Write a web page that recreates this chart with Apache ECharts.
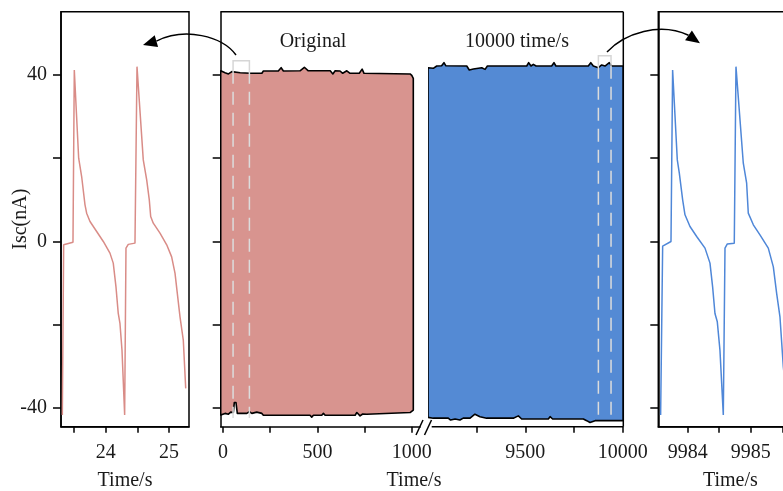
<!DOCTYPE html>
<html><head><meta charset="utf-8">
<script src="https://cdn.jsdelivr.net/npm/echarts@6/dist/echarts.min.js"></script>
<style>html,body{margin:0;padding:0;background:#fff}#c{width:783px;height:491px}</style>
</head><body><div id="c"></div>
<script>
// ---- zoomed waveform, original (left panel) ----
const origTime = [23.314, 23.335, 23.482, 23.503, 23.572, 23.619, 23.672, 23.698, 23.751, 23.856, 23.961, 24.066, 24.118, 24.161, 24.197, 24.224, 24.256, 24.298, 24.319, 24.355, 24.461, 24.493, 24.592, 24.646, 24.687, 24.709, 24.750, 24.856, 24.962, 25.040, 25.093, 25.129, 25.172, 25.224, 25.262];
const origIsc  = [-41.7, -0.8, -0.2, 41.2, 20.0, 15.6, 8.8, 6.8, 4.8, 2.4, 0.0, -2.8, -5.2, -10.9, -17.3, -19.7, -26.1, -41.7, -1.6, -0.7, -0.4, 42.0, 19.6, 14.8, 10.0, 6.0, 4.4, 2.0, -0.8, -3.7, -7.6, -12.4, -18.1, -23.7, -35.3];
// ---- zoomed waveform, after 10000 s (right panel) ----
const fastTime = [9983.572, 9983.604, 9983.736, 9983.762, 9983.836, 9983.868, 9983.921, 9983.958, 9984.037, 9984.143, 9984.275, 9984.354, 9984.396, 9984.433, 9984.470, 9984.512, 9984.565, 9984.592, 9984.629, 9984.739, 9984.766, 9984.882, 9984.935, 9984.961, 9985.041, 9985.146, 9985.278, 9985.358, 9985.410, 9985.463, 9985.516, 9985.560];
const fastIsc  = [-41.7, -1.1, 0.0, 41.2, 19.6, 16.4, 10.0, 6.4, 3.6, 1.2, -1.6, -5.2, -10.9, -17.3, -19.3, -26.1, -41.7, -1.6, -0.6, -0.4, 42.0, 18.8, 14.0, 6.8, 4.0, 1.6, -1.6, -6.1, -12.4, -18.1, -30.1, -36.0];
// ---- envelopes of the full records (middle panel) ----
const origTopTime = [-12, 11, 29, 47, 91, 144, 206, 214, 293, 308, 320, 408, 431, 452, 568, 582, 594, 620, 634, 656, 673, 722, 737, 747, 991, 1000, 1008];
const origTopIsc  = [41.0, 40.55, 40.25, 40.8, 40.55, 40.4, 40.4, 40.95, 40.95, 41.75, 40.95, 41.0, 41.85, 41.0, 41.0, 40.25, 41.0, 40.95, 40.4, 41.0, 40.4, 40.4, 41.4, 40.4, 40.25, 39.9, 39.2];
const origBotTime = [-12, 11, 29, 41, 55, 60, 69, 76, 126, 140, 153, 179, 206, 214, 461, 470, 479, 523, 532, 541, 700, 709, 726, 740, 762, 991, 1008];
const origBotIsc  = [-41.7, -41.3, -41.5, -41.0, -41.1, -38.7, -38.7, -41.3, -41.3, -40.9, -41.3, -41.0, -41.3, -41.75, -41.75, -42.2, -41.75, -41.75, -41.3, -41.75, -41.75, -41.1, -41.9, -41.45, -41.5, -41.1, -40.5];
const fastTopTime = [9000, 9027, 9045, 9070, 9082, 9092, 9199, 9212, 9233, 9276, 9293, 9305, 9507, 9517, 9529, 9541, 9555, 9635, 9647, 9657, 9823, 9836, 9849, 9875, 9892, 9909, 9931, 9944, 10003];
const fastTopIsc  = [41.75, 41.6, 42.15, 42.2, 42.95, 42.2, 42.15, 41.2, 41.45, 41.75, 41.35, 42.15, 42.15, 42.95, 42.15, 42.55, 42.15, 42.15, 42.95, 42.15, 42.15, 42.95, 42.15, 41.75, 42.4, 42.15, 42.95, 42.15, 42.15];
const fastBotTime = [9000, 9027, 9104, 9116, 9139, 9164, 9181, 9216, 9241, 9267, 9301, 9438, 9464, 9481, 9618, 9627, 9640, 9798, 9815, 9832, 9858, 10003];
const fastBotIsc  = [-42.25, -42.45, -42.45, -42.9, -42.65, -42.9, -42.45, -42.45, -41.5, -42.1, -42.45, -42.45, -41.9, -42.65, -42.65, -42.1, -42.65, -42.65, -43.05, -43.5, -43.05, -43.05];
// ---- zoom windows marked in the middle panel ----
const origWindow = [53.5, 140];
const origWindowIsc = [43.4, 41.0, -42.4];
const fastWindow = [9875, 9940];
const fastWindowIsc = [44.6, 42.2, -43.5];
// ---- ticks / labels ----
const yTicks = [-40, -20, 0, 20, 40];
const yLabels = [-40, 0, 40];
const origZoomTicks = [23.5, 24, 24.5, 25];
const origZoomLabels = [24, 25];
const fastZoomTicks = [9984, 9984.5, 9985, 9985.5];
const fastZoomLabels = [9984, 9985];
const midLeftTicks = [0, 250, 500, 750, 1000];
const midLeftLabels = [0, 500, 1000];
const midRightTicks = [9250, 9500, 9750, 10000];
const midRightLabels = [9500, 10000];
const panelTitles = ['Original', '10000 time/s'];
const xName = 'Time/s';
const yName = 'Isc(nA)';

const zip = (a, b) => a.map((v, i) => [v, b[i]]);
const FONT = 'Liberation Serif';
const TXT = {fontFamily: FONT, fontSize: 20, color: '#1a1a1a'};
const PINK_LINE = '#d98c87', PINK_FILL = '#d8948f';
const BLUE_LINE = '#4f87d8', BLUE_FILL = '#548ad4';
const YMIN = -44.5, YMAX = 55.2;
const TOP = 11.7, H = 415;

function xAx(gi, min, max, ticks, labels, name, showLine) {
  return {type: 'value', gridIndex: gi, min, max, position: 'bottom',
    axisLine: {show: showLine, onZero: false, lineStyle: {color: '#000', width: 1.5}},
    axisTick: {show: true, inside: false, length: 6, customValues: ticks, lineStyle: {color: '#000', width: 1.5}},
    axisLabel: Object.assign({show: true, customValues: labels, margin: 16, formatter: v => String(v)}, TXT),
    splitLine: {show: false},
    name: name, nameLocation: 'middle', nameGap: 44, nameMoveOverlap: false, nameTextStyle: Object.assign({}, TXT)};
}
function yAx(gi, showLabels, name, show) {
  return {type: 'value', gridIndex: gi, min: YMIN, max: YMAX, show: show !== false,
    axisLine: {show: true, onZero: false, lineStyle: {color: '#000', width: 1.5}},
    axisTick: {show: true, inside: false, length: 8, customValues: yTicks, lineStyle: {color: '#000', width: 1.5}},
    axisLabel: Object.assign({show: showLabels, customValues: yLabels, margin: 14, formatter: v => String(v)}, TXT),
    splitLine: {show: false},
    name: name, nameLocation: 'middle', nameGap: 30, nameRotate: 90, nameMoveOverlap: false, nameTextStyle: Object.assign({}, TXT)};
}
function band(top, bot, fill, idx) {
  const poly = top.concat(bot.slice().reverse());
  return {type: 'custom', xAxisIndex: idx, yAxisIndex: idx, data: poly, clip: true, silent: true, z: 2,
    renderItem: (params, api) => {
      if (params.dataIndex !== 0) return null;
      return {type: 'polygon', shape: {points: poly.map(p => api.coord(p))},
        style: {fill: fill, stroke: '#000', lineWidth: 1.6, lineJoin: 'round'}};
    }};
}
function windowBox(times, iscs, idx) {
  const data = [[times[0], iscs[0]], [times[1], iscs[2]]];
  return {type: 'custom', xAxisIndex: idx, yAxisIndex: idx, data: data, clip: false, silent: true, z: 5,
    renderItem: (params, api) => {
      if (params.dataIndex !== 0) return null;
      const a = api.coord([times[0], iscs[0]]), b = api.coord([times[1], iscs[0]]);
      const a2 = api.coord([times[0], iscs[1]]), b2 = api.coord([times[1], iscs[1]]);
      const a3 = api.coord([times[0], iscs[2]]), b3 = api.coord([times[1], iscs[2]]);
      const solid = {stroke: '#d6d6d6', lineWidth: 1.5, fill: null};
      const dashed = {stroke: '#dcdcdc', lineWidth: 1.5, lineDash: [13, 8], fill: null};
      return {type: 'group', children: [
        {type: 'polyline', shape: {points: [a2, a, b, b2]}, style: solid},
        {type: 'line', shape: {x1: a2[0], y1: a2[1], x2: a3[0], y2: a3[1]}, style: dashed},
        {type: 'line', shape: {x1: b2[0], y1: b2[1], x2: b3[0], y2: b3[1]}, style: dashed}
      ]};
    }};
}

const ML = 220.7, MR = 623.3, MB = TOP + H;
const lineStyle = {stroke: '#000', lineWidth: 1.5};
const textStyle = t => ({text: t, align: 'center', verticalAlign: 'middle', fill: '#1a1a1a', font: '20px "Liberation Serif"'});
const option = {
  animation: false,
  backgroundColor: '#fff',
  grid: [
    {left: 61, top: TOP, width: 128, height: H, show: true, borderColor: '#000', borderWidth: 1.5, backgroundColor: 'transparent', containLabel: false, outerBoundsMode: 'none'},
    {left: ML, top: TOP, width: 199.4, height: H, show: false, containLabel: false, outerBoundsMode: 'none'},
    {left: 428, top: TOP, width: 195.3, height: H, show: false, containLabel: false, outerBoundsMode: 'none'},
    {left: 658.3, top: TOP, width: 144, height: H, show: true, borderColor: '#000', borderWidth: 1.5, backgroundColor: 'transparent', containLabel: false, outerBoundsMode: 'none'}
  ],
  xAxis: [
    xAx(0, 23.293, 25.314, origZoomTicks, origZoomLabels, xName, true),
    xAx(1, -12, 1044, midLeftTicks, midLeftLabels, '', true),
    xAx(2, 9000, 10003, midRightTicks, midRightLabels, '', false),
    xAx(3, 9983.535, 9983.535 + 144 / 63.1, fastZoomTicks, fastZoomLabels, xName, true)
  ],
  yAxis: [
    yAx(0, true, yName),
    yAx(1, false, ''),
    yAx(2, false, '', false),
    yAx(3, false, '')
  ],
  series: [
    {type: 'line', xAxisIndex: 0, yAxisIndex: 0, data: zip(origTime, origIsc), showSymbol: false, symbol: 'none',
      lineStyle: {color: PINK_LINE, width: 1.5}, clip: true},
    band(zip(origTopTime, origTopIsc), zip(origBotTime, origBotIsc), PINK_FILL, 1),
    windowBox(origWindow, origWindowIsc, 1),
    band(zip(fastTopTime, fastTopIsc), zip(fastBotTime, fastBotIsc), BLUE_FILL, 2),
    windowBox(fastWindow, fastWindowIsc, 2),
    {type: 'line', xAxisIndex: 3, yAxisIndex: 3, data: zip(fastTime, fastIsc), showSymbol: false, symbol: 'none',
      lineStyle: {color: BLUE_LINE, width: 1.5}, clip: true}
  ],
  graphic: [
    {type: 'line', z: 100, shape: {x1: ML, y1: TOP, x2: MR, y2: TOP}, style: lineStyle},
    {type: 'line', z: 100, shape: {x1: MR, y1: TOP, x2: MR, y2: MB}, style: lineStyle},
    {type: 'line', z: 100, shape: {x1: 431.7, y1: MB, x2: MR, y2: MB}, style: lineStyle},
    {type: 'line', z: 100, shape: {x1: 416, y1: 435, x2: 423, y2: 420}, style: lineStyle},
    {type: 'line', z: 100, shape: {x1: 424.5, y1: 435, x2: 431.5, y2: 420}, style: lineStyle},
    {type: 'bezierCurve', z: 100, shape: {x1: 236, y1: 55, cpx1: 222, cpy1: 36, cpx2: 185, cpy2: 27, x2: 156.4, y2: 41.1}, style: {stroke: '#000', lineWidth: 1.5, fill: null}},
    {type: 'polygon', z: 100, shape: {points: [[143, 45], [158.1, 46.9], [154.7, 35.3]]}, style: {fill: '#000'}},
    {type: 'bezierCurve', z: 100, shape: {x1: 607, y1: 52, cpx1: 625, cpy1: 33, cpx2: 660, cpy2: 22, x2: 688.5, y2: 35.3}, style: {stroke: '#000', lineWidth: 1.5, fill: null}},
    {type: 'polygon', z: 100, shape: {points: [[700, 43.3], [685.1, 40.2], [691.9, 30.4]]}, style: {fill: '#000'}},
    {type: 'text', z: 100, x: 313, y: 42, style: textStyle(panelTitles[0])},
    {type: 'text', z: 100, x: 517, y: 42, style: textStyle(panelTitles[1])},
    {type: 'text', z: 100, x: 414, y: 481, style: textStyle(xName)}
  ]
};
const chart = echarts.init(document.getElementById('c'), null, {renderer: 'canvas'});
chart.setOption(option);
</script>
</body></html>
